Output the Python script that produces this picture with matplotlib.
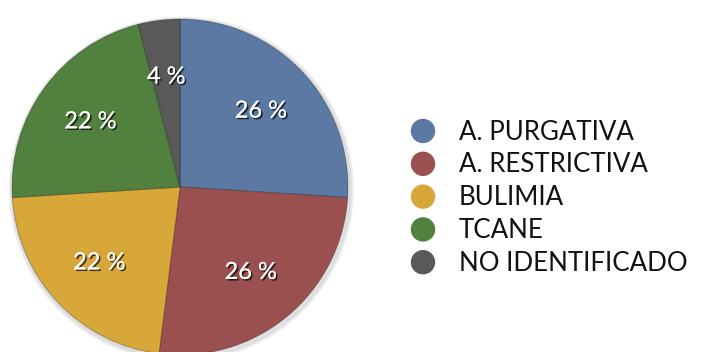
import matplotlib
matplotlib.use("Agg")
import matplotlib.pyplot as plt
import matplotlib.patheffects as pe
from matplotlib.patches import Circle

categories = ["A. PURGATIVA", "A. RESTRICTIVA", "BULIMIA", "TCANE", "NO IDENTIFICADO"]
values = [26, 26, 22, 22, 4]
colors = ["#5B79A2", "#9B5050", "#D8A73A", "#52803F", "#595959"]

W, H = 707, 352
fig = plt.figure(figsize=(W / 100, H / 100), dpi=100)
fig.patch.set_facecolor("white")

plt.rcParams['font.family'] = ['Lato', 'DejaVu Sans']

cx, cy, R = 180, 187, 168
ax = fig.add_axes([(cx - R) / W, (H - cy - R) / H, 2 * R / W, 2 * R / H])

# soft shadow behind pie
for i in range(3):
    sh = Circle((0.008, -0.012), 1.0 + 0.008 * (i + 1), color="black", alpha=0.04, zorder=0, clip_on=False)
    ax.add_patch(sh)

wedges, texts, autotexts = ax.pie(
    values, colors=colors, startangle=90, counterclock=False, radius=1.0,
    autopct=lambda p: f"{p:.0f} %", pctdistance=0.66,
    wedgeprops=dict(edgecolor=(0, 0, 0, 0.25), linewidth=0.8),
    textprops=dict(color="white", fontsize=17),
)
ax.set_xlim(-1, 1)
ax.set_ylim(-1, 1)
ax.set_aspect("equal")
ax.axis("off")
for w in wedges:
    w.set_clip_on(False)
    w.set_zorder(2)
for t in autotexts:
    t.set_zorder(3)
    t.set_path_effects([pe.withSimplePatchShadow(offset=(1.2, -1.2), shadow_rgbFace="black", alpha=0.7), pe.Normal()])

# legend
lax = fig.add_axes([0, 0, 1, 1])
lax.set_xlim(0, W)
lax.set_ylim(H, 0)
lax.axis("off")
y0, dy = 131, 32.8
for i, (lab, c) in enumerate(zip(categories, colors)):
    y = y0 + i * dy
    lax.add_patch(Circle((423, y), 11.5, color=c))
    lax.text(459, y + 1, lab, fontsize=18.6, color="#111111", va="center", ha="left")

fig.savefig("out.png", dpi=100)
